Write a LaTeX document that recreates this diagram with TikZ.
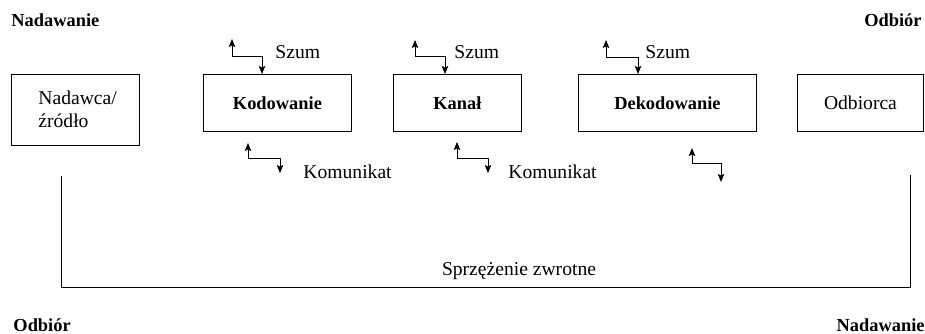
\documentclass[tikz,border=0pt]{standalone}
\usepackage{fontspec}
\setmainfont{Liberation Serif}
\usetikzlibrary{arrows.meta}
\begin{document}
\begin{tikzpicture}[x=1pt,y=-1pt,
  line width=0.9pt,
  reg/.style={font=\fontsize{19.6}{24}\selectfont, inner sep=0pt},
  bld/.style={font=\fontsize{18.4}{22}\selectfont\bfseries, inner sep=0pt},
  box/.style={draw, line width=0.9pt},
  twoway/.style={{Stealth[length=8pt,width=6.5pt,inset=1.5pt]}-{Stealth[length=8pt,width=6.5pt,inset=1.5pt]}},
  loopline/.style={line width=0.9pt}]
\useasboundingbox (0,0) rectangle (925,334);

% corner labels
\node[bld, anchor=base west] (sendTL) at (11,27) {Nadawanie};
\node[bld, anchor=base east] (recvTR) at (922,27) {Odbiór};
\node[bld, anchor=base west] (recvBL) at (13,331) {Odbiór};
\node[bld, anchor=base east] (sendBR) at (925,331) {Nadawanie};

% the five stages
\draw[box] (11,74) rectangle (139,145);
\node[reg, anchor=base west, align=left] (src) at (38,105) {Nadawca/};
\node[reg, anchor=base west] (src2) at (38,128) {źródło};
\coordinate (srcbox) at (75,145);

\node[box, minimum width=148pt, minimum height=57pt, anchor=north west, bld, inner sep=0pt] (kod) at (203,74) {Kodowanie};
\node[box, minimum width=128pt, minimum height=57pt, anchor=north west, bld, inner sep=0pt] (kan) at (393,74) {Kanał};
\node[box, minimum width=178pt, minimum height=57pt, anchor=north west, bld, inner sep=0pt] (dek) at (578,74) {Dekodowanie};
\node[box, minimum width=126pt, minimum height=57pt, anchor=north west, reg, inner sep=0pt] (odb) at (797,74) {Odbiorca};

% noise entering each stage from above
\coordinate (n1) at (232,39);
\coordinate (n2) at (415,40);
\coordinate (n3) at (606,40);
\draw[twoway] (n1) -- (232,56) -- (262,56) -- (kod.north -| 262,0);
\draw[twoway] (n2) -- (415,56) -- (445,56) -- (kan.north -| 445,0);
\draw[twoway] (n3) -- (606,57) -- (638,57) -- (dek.north -| 638,0);
\node[reg, anchor=base west] (szum1) at (275,59) {Szum};
\node[reg, anchor=base west] (szum2) at (454,59) {Szum};
\node[reg, anchor=base west] (szum3) at (645,59) {Szum};

% message passed on below each stage
\coordinate (m1a) at (248,143);
\coordinate (m1b) at (280,173);
\coordinate (m2a) at (457,142);
\coordinate (m2b) at (488,173);
\coordinate (m3a) at (692,148);
\coordinate (m3b) at (721,182);
\draw[twoway] (m1a) -- (248,158) -- (280,158) -- (m1b);
\draw[twoway] (m2a) -- (457,158) -- (488,158) -- (m2b);
\draw[twoway] (m3a) -- (692,163) -- (721,163) -- (m3b);
\node[reg, anchor=base west] (kom1) at (303,178) {Komunikat};
\node[reg, anchor=base west] (kom2) at (508,178) {Komunikat};

% feedback loop
\coordinate (fbL) at (61,176);
\coordinate (fbR) at (910,175);
\draw[loopline] (fbL) -- (61,287) -- (910,287) -- (fbR);
\node[reg, anchor=base] (fb) at (519,275) {Sprzężenie zwrotne};
\end{tikzpicture}
\end{document}
